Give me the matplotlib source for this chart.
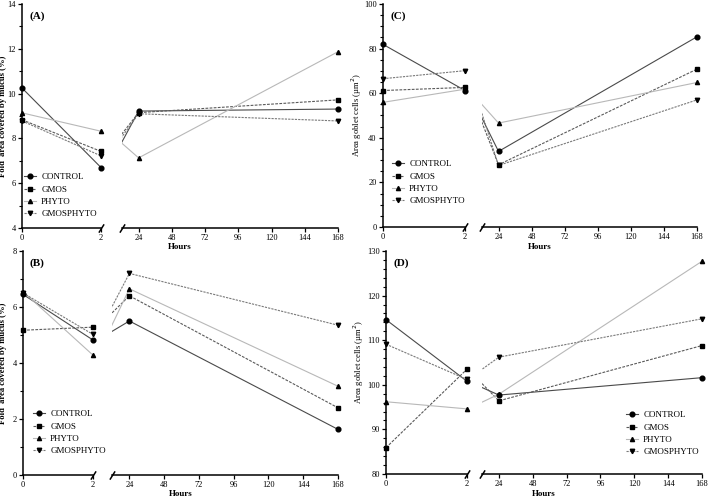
import matplotlib
matplotlib.use("Agg")
import matplotlib.pyplot as plt
from matplotlib.lines import Line2D
from matplotlib.ticker import MultipleLocator

plt.rcParams['font.family'] = ['Liberation Serif', 'DejaVu Serif']
plt.rcParams['font.size'] = 6.5

hours = [0, 2, 24, 168]
groups = ["CONTROL", "GMOS", "PHYTO", "GMOSPHYTO"]

# (A) fold area covered by mucus, first trial
a_control = [10.25, 6.70, 9.22, 9.31]
a_gmos = [8.83, 7.42, 9.15, 9.72]
a_phyto = [9.14, 8.32, 7.13, 11.87]
a_gmosphyto = [8.78, 7.22, 9.10, 8.78]

# (B) fold area covered by mucus, second trial
b_control = [6.45, 4.82, 5.50, 1.63]
b_gmos = [5.17, 5.28, 6.40, 2.40]
b_phyto = [6.55, 4.28, 6.65, 3.17]
b_gmosphyto = [6.50, 5.02, 7.20, 5.35]

# (C) area goblet cells, first trial
c_control = [81.9, 61.2, 33.9, 85.3]
c_gmos = [61.2, 62.6, 27.9, 70.8]
c_phyto = [55.9, 61.8, 46.6, 64.8]
c_gmosphyto = [66.5, 70.1, 27.6, 57.0]

# (D) area goblet cells, second trial
d_control = [114.6, 100.8, 97.7, 101.6]
d_gmos = [85.9, 103.5, 96.4, 108.8]
d_phyto = [96.2, 94.6, 97.9, 127.7]
d_gmosphyto = [109.1, 101.2, 106.2, 114.8]

styles = {
    "CONTROL": dict(color="#4a4a4a", ls="-", marker="o", ms=3.4),
    "GMOS": dict(color="#5a5a5a", ls=(0, (2.5, 1.2)), marker="s", ms=3.3),
    "PHYTO": dict(color="#b8b8b8", ls="-", marker="^", ms=3.0),
    "GMOSPHYTO": dict(color="#7a7a7a", ls=(0, (2, 1)), marker="v", ms=3.2),
}

fig = plt.figure(figsize=(7.08, 4.98), dpi=100)


def px_axes(x0, x1, ytop, ybot):
    return fig.add_axes([x0 / 708, 1 - ybot / 498, (x1 - x0) / 708, (ybot - ytop) / 498])


def break_mark(ax, xpos):
    ax.plot([xpos], [0], transform=ax.transAxes, marker=[(-1, -1.6), (1, 1.6)],
            ms=6, mew=1.1, color="k", ls="", clip_on=False)


def panel(geom, data, ylim, major, minor, ylabel, label_x, letter, legend_xy, hours_y):
    lx0, lx1, rx0, rx1, yt, yb = geom
    axl = px_axes(lx0, lx1, yt, yb)
    axr = px_axes(rx0, rx1, yt, yb)
    for name, vals in zip(groups, data):
        st = styles[name]
        for ax in (axl, axr):
            ax.plot(hours, vals, color=st["color"], ls=st["ls"], lw=0.8)
        axl.plot(hours[:2], vals[:2], ls="", marker=st["marker"], ms=st["ms"],
                 color="k", clip_on=False, zorder=5)
        axr.plot(hours[2:], vals[2:], ls="", marker=st["marker"], ms=st["ms"],
                 color="k", clip_on=False, zorder=5)

    for ax in (axl, axr):
        ax.set_ylim(*ylim)
        ax.spines["top"].set_visible(False)
        ax.spines["right"].set_visible(False)
        for s in ax.spines.values():
            s.set_linewidth(1.1)
        ax.tick_params(direction="out", length=3, width=0.9, pad=1.5, labelsize=6)
        ax.tick_params(which="minor", length=2, width=0.8)

    axl.set_xlim(0, 2)
    axl.set_xticks([0, 2])
    axl.yaxis.set_major_locator(MultipleLocator(major))
    axl.yaxis.set_minor_locator(MultipleLocator(minor))
    axl.set_ylabel(ylabel, fontsize=6.2,
                   fontweight="bold" if "Fold" in ylabel else "normal")
    axl.yaxis.set_label_coords((label_x - lx0) / (lx1 - lx0), 0.5)
    axl.text(0.09, 0.965, letter, transform=axl.transAxes, fontsize=8,
             fontweight="bold", va="top")

    axr.set_xlim(12, 168)
    axr.set_xticks([24, 48, 72, 96, 120, 144, 168])
    axr.spines["left"].set_visible(False)
    axr.set_yticks([])

    break_mark(axl, 1.0)
    break_mark(axr, 0.0)

    fig.text((lx0 + rx1) / 2 / 708, 1 - hours_y / 498, "Hours", ha="center",
             va="center", fontsize=6.5, fontweight="bold")

    handles = [Line2D([], [], color=styles[g]["color"], ls=styles[g]["ls"], lw=0.8,
                      marker=styles[g]["marker"], ms=styles[g]["ms"],
                      mfc="k", mec="k") for g in groups]
    fig.legend(handles, groups, loc="upper left",
               bbox_to_anchor=(legend_xy[0] / 708, 1 - legend_xy[1] / 498),
               frameon=False, fontsize=6.5, handlelength=1.3, handletextpad=0.6,
               labelspacing=0.45, borderaxespad=0, borderpad=0)


panel((22, 101, 122, 338, 4, 228),
      [a_control, a_gmos, a_phyto, a_gmosphyto], (4, 14), 2, 1,
      "Fold  area covered by mucus (%)", 7, "(A)", (24, 173), 247)
panel((23, 93, 112, 338, 251, 475),
      [b_control, b_gmos, b_phyto, b_gmosphyto], (0, 8), 2, 1,
      "Fold  area covered by mucus (%)", 7, "(B)", (33, 410), 494)
panel((383, 465, 482, 697, 4, 227),
      [c_control, c_gmos, c_phyto, c_gmosphyto], (0, 100), 20, 5,
      "Area goblet cells (\u00b5m$^2$)", 364, "(C)", (392, 160), 247)
panel((386, 467, 482, 702, 251, 474),
      [d_control, d_gmos, d_phyto, d_gmosphyto], (80, 130), 10, 2,
      "Area goblet cells (\u00b5m$^2$)", 366, "(D)", (626, 411), 494)

fig.savefig("out.png", dpi=100)
